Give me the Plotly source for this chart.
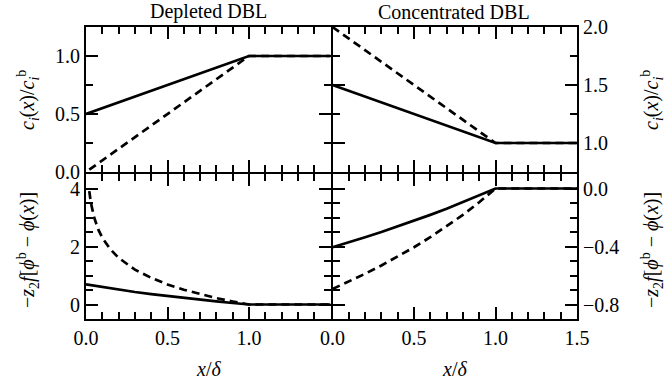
import plotly.graph_objects as go

# ---- data ----
c_x = [0.0, 1.0, 1.5]
dep_c_solid = [0.5, 1.0, 1.0]
dep_c_dash_x = [0.02, 1.0, 1.5]
dep_c_dash = [0.02, 1.0, 1.0]
con_c_solid = [1.5, 1.0, 1.0]
con_c_dash = [2.0, 1.0, 1.0]

phi_x = [0.0, 0.1, 0.2, 0.3, 0.4, 0.5, 0.6, 0.7, 0.8, 0.9, 1.0, 1.5]
dep_phi_solid = [0.693, 0.598, 0.511, 0.431, 0.357, 0.288, 0.223, 0.163, 0.105, 0.051, 0.0, 0.0]
dep_phi_dash_x = [0.02, 0.03, 0.05, 0.075, 0.1, 0.15, 0.2, 0.3, 0.4, 0.5, 0.6, 0.7, 0.8, 0.9, 1.0, 1.5]
dep_phi_dash = [3.91, 3.51, 3.0, 2.59, 2.3, 1.9, 1.61, 1.2, 0.92, 0.69, 0.51, 0.36, 0.22, 0.105, 0.0, 0.0]
con_phi_solid = [-0.405, -0.372, -0.336, -0.300, -0.262, -0.223, -0.182, -0.140, -0.095, -0.049, 0.0, 0.0]
con_phi_dash = [-0.693, -0.642, -0.588, -0.531, -0.470, -0.405, -0.336, -0.262, -0.182, -0.095, 0.0, 0.0]

x_ticks_left = [0.0, 0.5, 1.0]
x_ticks_right = [0.0, 0.5, 1.0, 1.5]
y_ticks_tl = [0.0, 0.5, 1.0]
y_ticks_tr = [1.0, 1.5, 2.0]
y_ticks_bl = [0, 2, 4]
y_ticks_br = [0.0, -0.4, -0.8]
y_text_br = ["0.0", "\u22120.4", "\u22120.8"]

FONT = "Liberation Serif"
LW = 2.7
DASH = "8px,5px"

fig = go.Figure()

def add(x, y, xa, ya, dash):
    fig.add_trace(go.Scatter(x=x, y=y, xaxis=xa, yaxis=ya, mode="lines",
                             line=dict(color="black", width=LW, dash=dash),
                             showlegend=False, hoverinfo="skip"))

add(dep_c_dash_x, dep_c_dash, "x", "y", DASH)
add(c_x, dep_c_solid, "x", "y", "solid")
add(c_x, con_c_dash, "x2", "y2", DASH)
add(c_x, con_c_solid, "x2", "y2", "solid")
add(dep_phi_dash_x, dep_phi_dash, "x3", "y3", DASH)
add(phi_x, dep_phi_solid, "x3", "y3", "solid")
add(phi_x, con_phi_dash, "x4", "y4", DASH)
add(phi_x, con_phi_solid, "x4", "y4", "solid")

def axis(domain, anchor, rng, tickvals, minor_dtick, minor_tick0=0, ticktext=None,
         labels=True, side=None):
    d = dict(domain=domain, anchor=anchor, range=rng, showline=True, linewidth=2,
             linecolor="black", mirror="ticks", ticks="inside", ticklen=12,
             tickwidth=1.5, tickcolor="black", showgrid=False, zeroline=False,
             tickmode="array", tickvals=tickvals, showticklabels=labels,
             tickfont=dict(family=FONT, size=20, color="black"),
             minor=dict(ticks="inside", ticklen=7, tickwidth=1.5, tickcolor="black",
                        dtick=minor_dtick, tick0=minor_tick0, showgrid=False))
    if ticktext is not None:
        d["ticktext"] = ticktext
    if side:
        d["side"] = side
    return d

W, H = 491.0, 292.0
gx = 1.0 / W
gy = 1.0 / H
XL = [0, 0.5 - gx]
XR = [0.5 + gx, 1]
YT = [0.5 + gy, 1]
YB = [0, 0.5 - gy]

fig.update_layout(
    width=665, height=383,
    margin=dict(l=86, r=88, t=27, b=64),
    paper_bgcolor="white", plot_bgcolor="white",
    xaxis=axis(XL, "y", [0, 1.5], x_ticks_left, 0.1, labels=False),
    yaxis=axis(YT, "x", [0, 1.25], y_ticks_tl, 0.25,
               ticktext=["0.0", "0.5", "1.0"]),
    xaxis2=axis(XR, "y2", [0, 1.5], x_ticks_right, 0.1, labels=False),
    yaxis2=axis(YT, "x2", [0.75, 2.0], y_ticks_tr, 0.25,
                ticktext=["1.0", "1.5", "2.0"], side="right"),
    xaxis3=axis(XL, "y3", [0, 1.5], x_ticks_left, 0.1,
                ticktext=["0.0", "0.5", "1.0"]),
    yaxis3=axis(YB, "x3", [-0.5, 4.5], y_ticks_bl, 0.5),
    xaxis4=axis(XR, "y4", [0, 1.5], x_ticks_right, 0.1,
                ticktext=["0.0", "0.5", "1.0", "1.5"]),
    yaxis4=axis(YB, "x4", [-0.9, 0.1], y_ticks_br, 0.1, minor_tick0=0,
                ticktext=y_text_br, side="right"),
)

c_label = "<i>c</i><sub><i>i</i></sub>(<i>x</i>)/<i>c</i><sub><i>i</i></sub><sup>b</sup>"
phi_label = "\u2212<i>z</i><sub>2</sub><i>f</i>[<i>\u03d5</i><sup>b</sup> \u2212 <i>\u03d5</i>(<i>x</i>)]"
xlab = "<i>x</i>/<i>\u03b4</i>"

def ann(text, x, y, angle=0):
    fig.add_annotation(text=text, x=x, y=y, xref="paper", yref="paper",
                       showarrow=False, textangle=angle, xanchor="center",
                       yanchor="middle",
                       font=dict(family=FONT, size=20, color="black"))

def px(xpix):
    return (xpix - 86) / W
def py(ypix):
    return (383 - 64 - ypix) / H

ann("Depleted DBL", 0.25, py(12))
ann("Concentrated DBL", 0.75, py(12))
ann(xlab, 0.25, py(369))
ann(xlab, 0.75, py(369))
ann(c_label, px(28), py(100), -90)
ann(phi_label, px(28), py(250), -90)
ann(c_label, px(652), py(100), -90)
ann(phi_label, px(652), py(250), -90)

fig.write_html("out.html", config={"displayModeBar": False},
               post_script="document.body.style.margin='0';")
